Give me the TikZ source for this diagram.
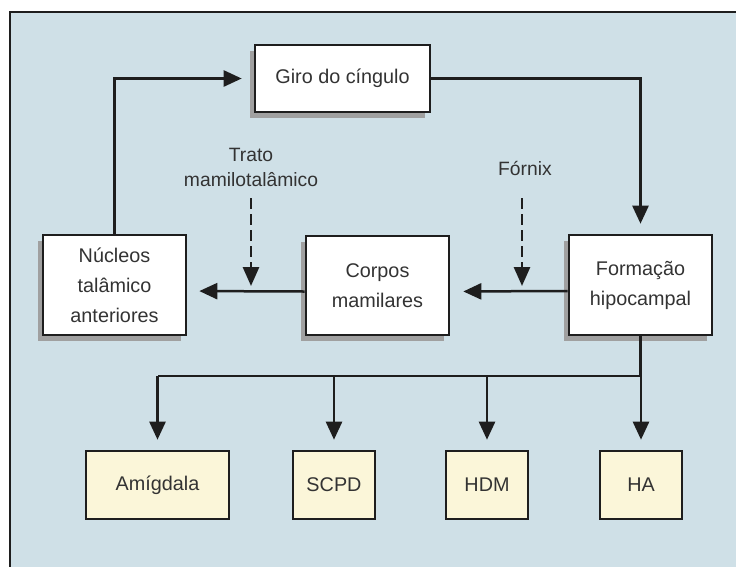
\documentclass[tikz,border=0pt]{standalone}
\usepackage{fontspec}
\setmainfont{Liberation Sans}
\usetikzlibrary{arrows.meta,shadows}
\definecolor{bgblue}{HTML}{CFE0E7}
\definecolor{cream}{HTML}{FBF6D9}
\definecolor{txt}{HTML}{333333}
\definecolor{edge}{HTML}{1E1E1E}
\definecolor{shade}{HTML}{A0A0A0}
\begin{document}
\begin{tikzpicture}[x=1pt,y=-1pt,
  box/.style={draw=edge, line width=2.6pt, fill=white, text=txt, align=center,
    inner sep=0pt, font=\fontsize{19.8}{30}\selectfont,
    drop shadow={shadow xshift=-5pt, shadow yshift=-6pt, fill=shade, opacity=1}},
  bbox/.style={draw=edge, line width=2.6pt, fill=cream, text=txt, align=center,
    inner sep=0pt, font=\fontsize{19.8}{30}\selectfont, minimum height=68pt},
  lbl/.style={text=txt, align=center, inner sep=0pt, font=\fontsize{19.3}{25}\selectfont},
  wire/.style={draw=edge, line width=2.5pt},
  conn/.style={wire, -{Triangle[length=18pt,width=16pt]}},
  dconn/.style={draw=edge, line width=2.8pt, dash pattern=on 11pt off 5pt, -{Triangle[length=19pt,width=16pt]}}
]
\useasboundingbox (0,0) rectangle (736,566);
\begin{scope}
\clip (0,0) rectangle (736,566);
\fill[white] (0,0) rectangle (736,566);
\fill[bgblue] (10,12) rectangle (745,575);
\draw[draw=edge, line width=2pt] (10,575) -- (10,12) -- (745,12);
\end{scope}

% top row
\node[box, minimum width=175pt, minimum height=67pt] (giro) at (342.5,78.5) {Giro do cíngulo};
\node[box, minimum width=143pt, minimum height=100pt] (nuc) at (114.5,285) {Núcleos\\talâmico\\anteriores};
\node[box, minimum width=143pt, minimum height=99pt] (corpos) at (377.5,285.5) {Corpos\\mamilares};
\node[box, minimum width=143pt, minimum height=100pt] (form) at (640.5,285) {Formação\\hipocampal};

% bottom row
\node[bbox, minimum width=143pt] (amig) at (157.5,485) {Amígdala};
\node[bbox, minimum width=82pt] (scpd) at (334,485) {SCPD};
\node[bbox, minimum width=82pt] (hdm) at (487,485) {HDM};
\node[bbox, minimum width=82pt] (ha) at (641,485) {HA};

% labels
\node[lbl] (trato) at (251,167.5) {Trato\\mamilotalâmico};
\node[lbl] (fornix) at (525,168) {Fórnix};

% loop connectors
\draw[conn, shorten >=12pt] (nuc.north) |- (giro.west);
\draw[conn, shorten >=10pt] (giro.east) -| (form.north);
\draw[conn, shorten >=13pt] ([yshift=-6pt]form.west) -- ([yshift=-6pt]corpos.east);
\draw[conn, shorten >=12pt] ([yshift=-6pt]corpos.west) -- ([yshift=-6pt]nuc.east);

% dashed
\coordinate (t0) at (251,198);
\coordinate (t1) at (251,286);
\coordinate (f0) at (522,198);
\coordinate (f1) at (522,286);
\draw[dconn] (t0) -- (t1);
\draw[dconn] (f0) -- (f1);

% bus
\coordinate (bus) at (640.5,376);
\draw[wire] (form.south) -- (bus) -- (amig.north |- bus);
\draw[conn, shorten >=10pt] (amig.north |- bus) -- (amig.north);
\draw[conn, shorten >=10pt] (scpd.north |- bus) -- (scpd.north);
\draw[conn, shorten >=10pt] (hdm.north |- bus) -- (hdm.north);
\draw[conn, shorten >=10pt] (ha.north |- bus) -- (ha.north);
\end{tikzpicture}
\end{document}
